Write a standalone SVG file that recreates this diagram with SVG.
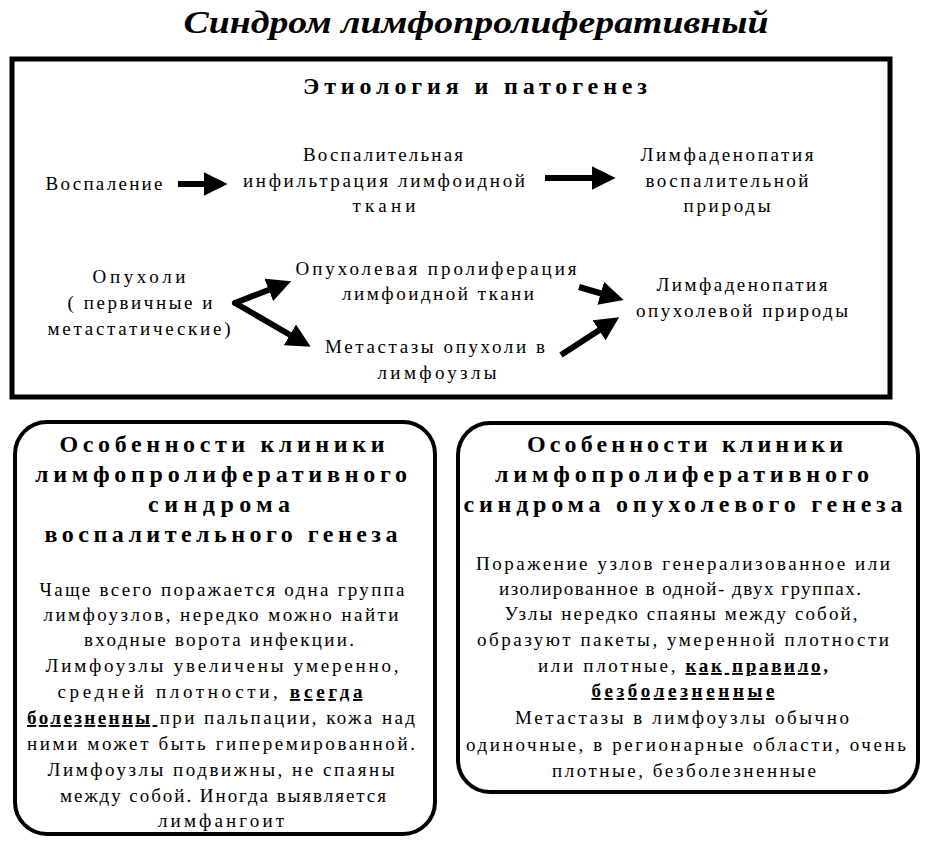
<svg xmlns="http://www.w3.org/2000/svg" width="928" height="844" viewBox="0 0 928 844">
<style>
.t{font-size:19px}
.h{font-size:24px;font-weight:bold}
.b{font-weight:bold;text-decoration:underline}
.title{font-size:32px;font-weight:bold;font-style:italic}
.frame{fill:none;stroke:#000;stroke-width:5}
.rbox{fill:#fff;stroke:#000;stroke-width:4}
.arr{stroke:#000;stroke-width:6;fill:none;marker-end:url(#ah)}
</style>
<defs>
<marker id="ah" viewBox="0 0 10 10" refX="1" refY="5" markerWidth="4" markerHeight="4" orient="auto" markerUnits="strokeWidth">
<path d="M0,0 L10,5 L0,10 z" fill="#000"/>
</marker>
</defs>
<rect width="928" height="844" fill="#fff"/>
<g font-family="Liberation Serif" text-anchor="middle">
<g id="title"><text font-family="Liberation Serif" class="title" x="476" y="33" textLength="585" lengthAdjust="spacingAndGlyphs">Синдром лимфопролиферативный</text></g>
<g id="etiology">
<rect class="frame" x="12" y="59" width="878" height="338"/>
<text font-family="Liberation Serif" class="h" x="475" y="94" font-size="22" textLength="344" lengthAdjust="spacing">Этиология и патогенез</text>
</g>
<g id="n-vospalenie"><text font-family="Liberation Serif" class="t" x="104" y="190" textLength="117" lengthAdjust="spacing">Воспаление</text></g>
<g id="n-infiltr">
<text font-family="Liberation Serif" class="t" x="383" y="161" textLength="160" lengthAdjust="spacing">Воспалительная</text>
<text font-family="Liberation Serif" class="t" x="384" y="187" textLength="282" lengthAdjust="spacing">инфильтрация лимфоидной</text>
<text font-family="Liberation Serif" class="t" x="384" y="212" textLength="63" lengthAdjust="spacing">ткани</text>
</g>
<g id="n-lad-vosp">
<text font-family="Liberation Serif" class="t" x="727" y="161" textLength="173" lengthAdjust="spacing">Лимфаденопатия</text>
<text font-family="Liberation Serif" class="t" x="727" y="187" textLength="163" lengthAdjust="spacing">воспалительной</text>
<text font-family="Liberation Serif" class="t" x="727" y="212" textLength="87" lengthAdjust="spacing">природы</text>
</g>
<g id="n-opuholi">
<text font-family="Liberation Serif" class="t" x="139" y="283" textLength="93" lengthAdjust="spacing">Опухоли</text>
<text font-family="Liberation Serif" class="t" x="140" y="309" textLength="145" lengthAdjust="spacing">( первичные и</text>
<text font-family="Liberation Serif" class="t" x="139" y="335" textLength="183" lengthAdjust="spacing">метастатические)</text>
</g>
<g id="n-prolif">
<text font-family="Liberation Serif" class="t" x="436" y="275" textLength="281" lengthAdjust="spacing">Опухолевая пролиферация</text>
<text font-family="Liberation Serif" class="t" x="438" y="300" textLength="192" lengthAdjust="spacing">лимфоидной ткани</text>
</g>
<g id="n-metast">
<text font-family="Liberation Serif" class="t" x="435" y="353" textLength="220" lengthAdjust="spacing">Метастазы опухоли в</text>
<text font-family="Liberation Serif" class="t" x="437" y="379" textLength="119" lengthAdjust="spacing">лимфоузлы</text>
</g>
<g id="n-lad-opuh">
<text font-family="Liberation Serif" class="t" x="742" y="291" textLength="171" lengthAdjust="spacing">Лимфаденопатия</text>
<text font-family="Liberation Serif" class="t" x="742" y="317" textLength="212" lengthAdjust="spacing">опухолевой природы</text>
</g>
<g id="connectors">
<line class="arr" x1="178" y1="184" x2="206" y2="184"/>
<line class="arr" x1="545" y1="178" x2="594" y2="178"/>
<line class="arr" x1="235" y1="303" x2="271" y2="289" stroke-linecap="round"/>
<line class="arr" x1="235" y1="303" x2="292" y2="336" stroke-linecap="round"/>
<line class="arr" x1="579" y1="287" x2="603" y2="294"/>
<line class="arr" x1="561" y1="355" x2="601" y2="329"/>
</g>
<g id="n-klinika-vosp">
<rect class="rbox" x="15" y="422" width="420" height="412" rx="32"/>
<text font-family="Liberation Serif" class="h" x="222" y="452" textLength="325" lengthAdjust="spacing">Особенности клиники</text>
<text font-family="Liberation Serif" class="h" x="221" y="482" textLength="372" lengthAdjust="spacing">лимфопролиферативного</text>
<text font-family="Liberation Serif" class="h" x="219" y="512" textLength="142" lengthAdjust="spacing">синдрома</text>
<text font-family="Liberation Serif" class="h" x="221" y="542" textLength="353" lengthAdjust="spacing">воспалительного генеза</text>
<text font-family="Liberation Serif" class="t" x="222" y="596" textLength="365" lengthAdjust="spacing">Чаще всего поражается одна группа</text>
<text font-family="Liberation Serif" class="t" x="221" y="621" textLength="355" lengthAdjust="spacing">лимфоузлов, нередко можно найти</text>
<text font-family="Liberation Serif" class="t" x="219" y="646" textLength="270" lengthAdjust="spacing">входные ворота инфекции.</text>
<text font-family="Liberation Serif" class="t" x="222" y="672" textLength="353" lengthAdjust="spacing">Лимфоузлы увеличены умеренно,</text>
<text font-family="Liberation Serif" class="t" x="210" y="698" textLength="305" lengthAdjust="spacing">средней плотности, <tspan class="b">всегда</tspan></text>
<text font-family="Liberation Serif" class="t" x="221" y="724" textLength="388" lengthAdjust="spacing"><tspan class="b">болезненны </tspan>при пальпации, кожа над</text>
<text font-family="Liberation Serif" class="t" x="221" y="750" textLength="388" lengthAdjust="spacing">ними может быть гиперемированной.</text>
<text font-family="Liberation Serif" class="t" x="221" y="776" textLength="347" lengthAdjust="spacing">Лимфоузлы подвижны, не спаяны</text>
<text font-family="Liberation Serif" class="t" x="223" y="802" textLength="326" lengthAdjust="spacing">между собой. Иногда выявляется</text>
<text font-family="Liberation Serif" class="t" x="221" y="827" textLength="126" lengthAdjust="spacing">лимфангоит</text>
</g>
<g id="n-klinika-opuh">
<rect class="rbox" x="458" y="423" width="460" height="369" rx="32"/>
<text font-family="Liberation Serif" class="h" x="685" y="452" textLength="316" lengthAdjust="spacing">Особенности клиники</text>
<text font-family="Liberation Serif" class="h" x="682" y="482" textLength="374" lengthAdjust="spacing">лимфопролиферативного</text>
<text font-family="Liberation Serif" class="h" x="683" y="512" textLength="439" lengthAdjust="spacing">синдрома опухолевого генеза</text>
<text font-family="Liberation Serif" class="t" x="683" y="570" textLength="414" lengthAdjust="spacing">Поражение узлов генерализованное или</text>
<text font-family="Liberation Serif" class="t" x="680" y="595" textLength="362" lengthAdjust="spacing">изолированное в одной- двух группах.</text>
<text font-family="Liberation Serif" class="t" x="681" y="620" textLength="353" lengthAdjust="spacing">Узлы нередко спаяны между собой,</text>
<text font-family="Liberation Serif" class="t" x="683" y="646" textLength="412" lengthAdjust="spacing">образуют пакеты, умеренной плотности</text>
<text font-family="Liberation Serif" class="t" x="683" y="672" textLength="290" lengthAdjust="spacing">или плотные, <tspan class="b">как правило,</tspan></text>
<text font-family="Liberation Serif" class="t" x="683" y="697" textLength="183" lengthAdjust="spacing"><tspan class="b">безболезненные</tspan></text>
<text font-family="Liberation Serif" class="t" x="682" y="724" textLength="334" lengthAdjust="spacing">Метастазы в лимфоузлы обычно</text>
<text font-family="Liberation Serif" class="t" x="686" y="751" textLength="440" lengthAdjust="spacing">одиночные, в регионарные области, очень</text>
<text font-family="Liberation Serif" class="t" x="684" y="777" textLength="264" lengthAdjust="spacing">плотные, безболезненные</text>
</g>
</g>
</svg>
